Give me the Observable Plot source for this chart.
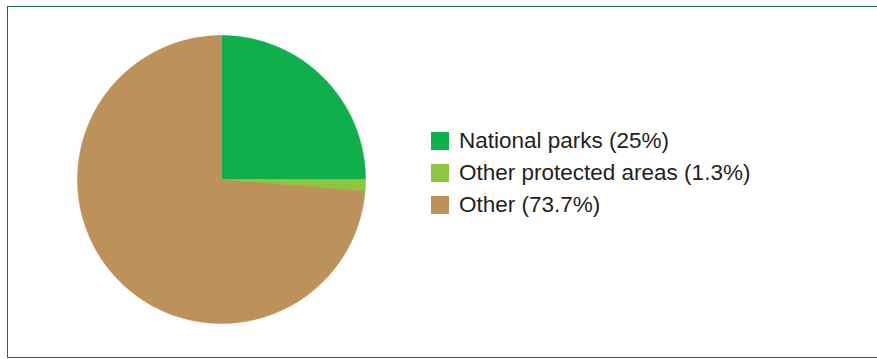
<!DOCTYPE html>
<html>
<head>
<meta charset="utf-8">
<script src="https://cdn.jsdelivr.net/npm/d3@7"></script>
<script src="https://cdn.jsdelivr.net/npm/@observablehq/plot@0.6"></script>
<style>
  html, body { margin: 0; padding: 0; background: #fff; }
  #wrap { position: relative; width: 877px; height: 359px; overflow: hidden; font-family: "Liberation Sans", Arial, sans-serif; }
  #frame { position: absolute; left: 7px; top: 6px; width: 900px; height: 352px; border: 1.5px solid #1d6b4f; box-sizing: border-box; z-index: 2; }
  #legend { position: absolute; left: 431px; top: 125px; z-index: 3; }
  .row { display: flex; align-items: center; height: 32px; }
  .sw { width: 18px; height: 18px; margin-right: 10px; }
  .lbl { font-size: 22.5px; color: #231f20; white-space: nowrap; position: relative; top: -0.5px; }
  svg { position: absolute; left: 0; top: 0; }
</style>
</head>
<body>
<div id="wrap"><div id="frame"></div><div id="legend"></div></div>
<script>
const categories = ["National parks", "Other protected areas", "Other"];
const shares = [25, 1.3, 73.7];
const labels = ["National parks (25%)", "Other protected areas (1.3%)", "Other (73.7%)"];
const colors = ["#0faf4b", "#8cc63f", "#bd915a"];

// Build slice outlines (unit circle, clockwise from 12 o'clock)
const total = d3.sum(shares);
const pts = [];
let start = 0;
shares.forEach((v, i) => {
  const a0 = start / total * 2 * Math.PI;
  const a1 = (start + v) / total * 2 * Math.PI;
  start += v;
  pts.push({cat: categories[i], x: 0, y: 0});
  const n = Math.max(2, Math.ceil((a1 - a0) / 0.01));
  for (let k = 0; k <= n; k++) {
    const a = a0 + (a1 - a0) * k / n;
    pts.push({cat: categories[i], x: Math.sin(a), y: Math.cos(a)});
  }
  pts.push({cat: categories[i], x: 0, y: 0});
});

const chart = Plot.plot({
  width: 877,
  height: 359,
  margin: 0,
  x: {domain: [-1, 1], range: [77, 365], axis: null},
  y: {domain: [-1, 1], range: [323, 35], axis: null},
  color: {domain: categories, range: colors},
  marks: [
    Plot.line(pts, {x: "x", y: "y", z: "cat", fill: "cat", stroke: "cat", strokeWidth: 0.5, curve: "linear"})
  ]
});
document.getElementById("wrap").appendChild(chart);

const legend = document.getElementById("legend");
categories.forEach((c, i) => {
  const row = document.createElement("div");
  row.className = "row";
  const sw = document.createElement("div");
  sw.className = "sw";
  sw.style.background = colors[i];
  const lbl = document.createElement("div");
  lbl.className = "lbl";
  lbl.textContent = labels[i];
  row.appendChild(sw);
  row.appendChild(lbl);
  legend.appendChild(row);
});
</script>
</body>
</html>
